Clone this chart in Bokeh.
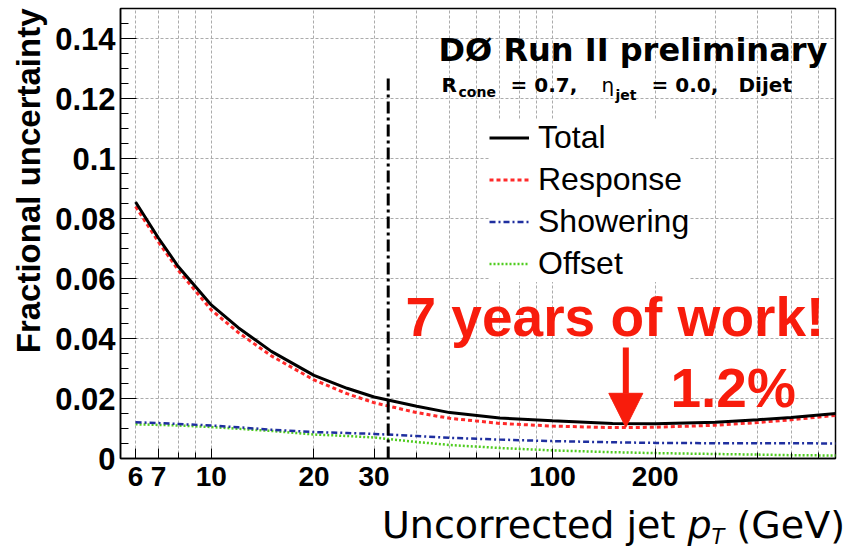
import math
from bokeh.plotting import figure
from bokeh.layouts import column
from bokeh.models import (Range1d, FixedTicker, SingleIntervalTicker, CustomJSTickFormatter,
                          Legend, LegendItem, Label, Arrow, NormalHead, Title, Div)
from bokeh.embed import file_html
from bokeh.resources import INLINE

# ---------------- data ----------------
pt        = [6, 7, 8, 10, 12, 15, 20, 25, 30, 40, 50, 70, 100, 150, 200, 300, 400, 500, 680]
total     = [0.0855, 0.0735, 0.0640, 0.0512, 0.0436, 0.0357, 0.0277, 0.0234, 0.0205, 0.0174, 0.0153,
             0.0135, 0.0126, 0.0117, 0.0116, 0.0121, 0.0129, 0.0137, 0.0150]
response  = [0.0840, 0.0722, 0.0628, 0.0495, 0.0420, 0.0342, 0.0262, 0.0216, 0.0186, 0.0153, 0.0134,
             0.0117, 0.0108, 0.0103, 0.0104, 0.0111, 0.0120, 0.0129, 0.0144]
showering = [0.0121, 0.0118, 0.0115, 0.0110, 0.0104, 0.0096, 0.0088, 0.0085, 0.0082, 0.0075, 0.0069,
             0.0063, 0.0058, 0.0054, 0.0052, 0.0051, 0.0051, 0.0051, 0.0050]
offset    = [0.0114, 0.0112, 0.0110, 0.0105, 0.0099, 0.0092, 0.0080, 0.0075, 0.0070, 0.0055, 0.0045,
             0.0035, 0.0027, 0.0021, 0.0018, 0.0015, 0.0013, 0.0011, 0.0010]

series_names = ["Total", "Response", "Showering", "Offset"]
x_tick_labels = [6, 7, 10, 20, 30, 100, 200]
x_grid_ticks = [6, 7, 8, 9, 10, 20, 30, 40, 50, 60, 70, 80, 90, 100, 200, 300, 400, 500, 600]

cut_pt, cut_top = 33, 0.128          # dash-dotted vertical marker
arrow_pt, arrow_from, arrow_to = 164, 0.0370, 0.0104

RED = "#f81c0c"

# ---------------- figure ----------------
p = figure(width=847, height=507, x_axis_type="log",
           x_range=Range1d(5.42, 675), y_range=Range1d(0, 0.15),
           output_backend="svg", toolbar_location=None,
           min_border_left=120, min_border_right=12, min_border_top=8, min_border_bottom=49)
p.background_fill_color = "white"
p.border_fill_color = "white"
p.outline_line_color = "black"
p.outline_line_width = 1.5

# axes
p.xaxis.ticker = FixedTicker(ticks=x_tick_labels, minor_ticks=x_grid_ticks)
p.xaxis.formatter = CustomJSTickFormatter(code="return tick.toFixed(0);")
p.yaxis.ticker = SingleIntervalTicker(interval=0.02, num_minor_ticks=4)
p.yaxis.formatter = CustomJSTickFormatter(
    code="return tick == 0 ? '0' : (Math.round(tick*100)/100).toString();")
for ax in (p.xaxis, p.yaxis):
    ax.axis_line_color = "black"
    ax.axis_line_width = 1.5
    ax.major_tick_line_color = "black"
    ax.minor_tick_line_color = "black"
    ax.major_tick_out = 0
    ax.minor_tick_out = 0
    ax.major_label_text_font = "Liberation Sans"
    ax.major_label_text_font_style = "bold"
    ax.major_label_text_color = "black"
p.xaxis.major_tick_in = 10
p.xaxis.minor_tick_in = 6
p.yaxis.major_tick_in = 16
p.yaxis.minor_tick_in = 8
p.xaxis.major_label_text_font_size = "28px"
p.yaxis.major_label_text_font_size = "31px"
p.xaxis.major_label_standoff = 8
p.yaxis.major_label_standoff = 5

# y-axis title (top aligned, like the reference)
p.add_layout(Title(text="Fractional uncertainty", align="right", text_font="Liberation Sans",
                   text_font_size="33px", text_font_style="bold", text_color="black",
                   standoff=12), "left")

# grid
p.xgrid.ticker = FixedTicker(ticks=x_grid_ticks)
for g in (p.xgrid, p.ygrid):
    g.grid_line_color = "#ababab"
    g.grid_line_dash = "3 2"
    g.grid_line_width = 1

# ---------------- curves ----------------
r_off = p.line(pt, offset, line_color="#4fcc1f", line_width=2.5, line_dash="2 2")
r_show = p.line(pt, showering, line_color="#1f2f9f", line_width=2.5, line_dash="6 3 2 3")
r_resp = p.line(pt, response, line_color="#ff2a2a", line_width=3, line_dash="4 3")
r_tot = p.line(pt, total, line_color="black", line_width=3)

p.segment(x0=[cut_pt], y0=[0], x1=[cut_pt], y1=[cut_top],
          line_color="black", line_width=3, line_dash="12 4 3 4")

p.add_layout(Arrow(end=NormalHead(size=34, fill_color=RED, line_color=RED),
                   x_start=arrow_pt, y_start=arrow_from, x_end=arrow_pt, y_end=arrow_to,
                   line_color=RED, line_width=6))

# ---------------- legend ----------------
legend = Legend(items=[LegendItem(label=series_names[0], renderers=[r_tot]),
                       LegendItem(label=series_names[1], renderers=[r_resp]),
                       LegendItem(label=series_names[2], renderers=[r_show]),
                       LegendItem(label=series_names[3], renderers=[r_off])],
                location=(369, 176), orientation="vertical",
                label_text_font="Liberation Sans", label_text_font_size="32px",
                label_text_color="black",
                glyph_width=40, glyph_height=37, label_height=37, label_standoff=9,
                spacing=5, padding=8, margin=0,
                background_fill_color="white", background_fill_alpha=1.0,
                border_line_color=None)
p.add_layout(legend)

# ---------------- texts inside the frame ----------------
FL, FB = 120, 458   # canvas position of frame left / bottom


def lab(text, px, baseline, size, font="Liberation Sans", style="normal", color="black"):
    # the label is anchored near the middle of the text, so lift it from the wanted baseline
    py = baseline - 0.38 * size
    p.add_layout(Label(x=px - FL, y=FB - py, x_units="screen", y_units="screen",
                       text=text, text_font=font, text_font_size=f"{size}px",
                       text_font_style=style, text_color=color, text_align="left",
                       text_baseline="alphabetic"))


lab("DØ Run II preliminary", 438, 62, 32, font="DejaVu Sans", style="bold")
lab("R", 441, 92, 20, font="DejaVu Sans", style="bold")
lab("cone", 458, 97, 14, font="DejaVu Sans", style="bold")
lab("= 0.7,", 510, 92, 20, font="DejaVu Sans", style="bold")
lab("η", 601, 92, 20, font="DejaVu Sans")
lab("jet", 615, 100, 14, font="DejaVu Sans", style="bold")
lab("= 0.0,", 651, 92, 20, font="DejaVu Sans", style="bold")
lab("Dijet", 738, 92, 20, font="DejaVu Sans", style="bold")

lab("7 years of work!", 405, 337, 55, style="bold", color=RED)
lab("1.2%", 670, 408, 55, style="bold", color=RED)

# ---------------- x-axis title (below the figure) ----------------
xtitle = Div(text='Uncorrected jet <i>p</i><i style="font-size:21px;position:relative;top:6px;">T</i> (GeV)',
             width=847, height=43,
             styles={"font-family": "DejaVu Sans", "font-size": "38px", "line-height": "37px",
                     "color": "black", "text-align": "right", "padding-right": "2px",
                     "white-space": "nowrap", "margin": "0"})

layout = column(p, xtitle, spacing=0)
open("out.html", "w").write(file_html(layout, INLINE))
